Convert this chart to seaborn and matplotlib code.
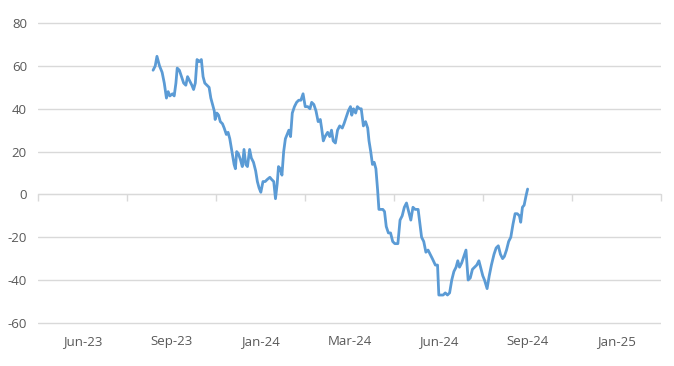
import numpy as np
import pandas as pd
import matplotlib
matplotlib.use("Agg")
import matplotlib.pyplot as plt
import seaborn as sns

# Axis category labels (evenly spaced, Excel-style)
period_labels = ["Jun-23", "Sep-23", "Jan-24", "Mar-24", "Jun-24", "Sep-24", "Jan-25"]

days = [0, 5, 9, 15, 21, 26, 31, 35, 39, 45, 49, 53, 56, 61, 66, 71, 76, 80, 85, 90,
        94, 98, 102, 107, 112, 116, 120, 125, 130, 134, 138, 142, 144, 148, 152, 156, 161, 165, 170, 174,
        178, 183, 188, 191, 194, 198, 203, 207, 211, 215, 219, 224, 228, 233, 238, 242, 246, 250, 255, 260,
        265, 271, 275, 280, 284, 288, 291, 295, 299, 303, 307, 311, 315, 319, 323, 328, 333, 338, 343, 348,
        353, 359, 364, 368, 373, 378, 383, 388, 391, 395, 399, 405, 410, 414, 418, 423, 428, 433, 439, 443,
        448, 453, 458, 461, 465, 470, 474, 479, 483, 488, 493, 498, 501, 505, 509, 513, 517, 521, 524, 529,
        533, 537, 541, 546, 551, 556, 561, 568, 573, 578, 583, 588, 593, 598, 603, 608, 615, 623, 628, 633,
        638, 643, 648, 655, 660, 663, 668, 673, 678, 683, 688, 693, 698, 703, 707, 711, 716, 721, 726, 731,
        736, 741, 746, 751, 756, 761, 765, 769, 775, 780, 785, 791, 796, 801, 806, 811, 815, 820, 825, 830,
        835, 840, 845, 850, 853, 857, 861, 865, 869]

values = [58, 60, 64.5, 60, 57, 52, 45, 48, 46, 47, 46, 52, 59, 58, 55, 52, 51, 55, 53, 51,
          49, 52, 63, 62, 63, 55, 52, 51, 50, 45, 42, 39, 35, 38, 37, 34, 33, 31, 28, 29,
          26, 20, 14, 12, 20, 19, 16, 13, 21, 14, 13, 21, 17, 15, 11, 6, 3, 1, 6, 6,
          7, 8, 7, 6, -2, 5, 13, 12, 9, 20, 26, 28, 30, 27, 38, 41, 43, 44, 44, 47,
          41, 41, 40, 43, 42, 39, 34, 35, 31, 25, 27, 29, 27, 30, 25, 24, 30, 32, 31, 33,
          36, 39, 41, 37, 40, 38, 41, 40, 40, 32, 34, 31, 25, 20, 14, 15, 12, 2, -7, -7,
          -7, -8, -15, -18, -18, -22, -23, -23, -12, -10, -6, -4, -8, -12, -6, -7, -7, -20, -22, -27,
          -26, -28, -30, -33, -33, -47, -47, -47, -46, -47, -46, -40, -36, -34, -31, -34, -32, -29, -26, -40,
          -39, -35, -34, -33, -31, -35, -38, -40, -44, -38, -33, -28, -25, -24, -28, -30, -29, -26, -22, -20,
          -14, -9, -9, -10, -13, -6, -5, -1, 2.5]

assert len(days) == len(values)
df = pd.DataFrame({"day": days, "value": values})

# axis window in day units: 7 equal label intervals
axis_start = -267
interval = 206.5
bounds = axis_start + interval * np.arange(len(period_labels) + 1)
centers = bounds[:-1] + interval / 2

sns.set_style("white")
plt.rcParams["font.family"] = ["Open Sans", "DejaVu Sans"]
plt.rcParams["axes.unicode_minus"] = False

fig = plt.figure(figsize=(6.74, 3.66), dpi=100)
ax = fig.add_axes([38 / 674, 41 / 366, 623 / 674, 304 / 366])

sns.lineplot(data=df, x="day", y="value", ax=ax, color="#5B9BD5", linewidth=2.0)

ax.set_xlim(bounds[0], bounds[-1])
ax.set_ylim(-61, 81)
ax.set_yticks(np.arange(-60, 81, 20))
ax.yaxis.grid(True, color="#d9d9d9", linewidth=1.0)
ax.xaxis.grid(False)
ax.set_axisbelow(True)
for s in ax.spines.values():
    s.set_visible(False)

ax.set_xticks(centers)
ax.set_xticklabels(period_labels)
ax.tick_params(axis="x", length=0, pad=7, labelsize=9.5, labelcolor="#595959")
ax.tick_params(axis="y", length=0, pad=8, labelsize=9.5, labelcolor="#595959")
ax.set_xlabel("")
ax.set_ylabel("")

# category axis line crossing at zero with tick marks between labels
zax = ax.secondary_xaxis(0, transform=ax.transData)
zax.set_xticks(bounds)
zax.set_xticklabels([])
zax.spines["bottom"].set_color("#d9d9d9")
zax.tick_params(axis="x", length=5, width=1, color="#d9d9d9", direction="out")
for name in ("top", "left", "right"):
    if name in zax.spines:
        zax.spines[name].set_visible(False)

fig.savefig("out.png", dpi=100)
